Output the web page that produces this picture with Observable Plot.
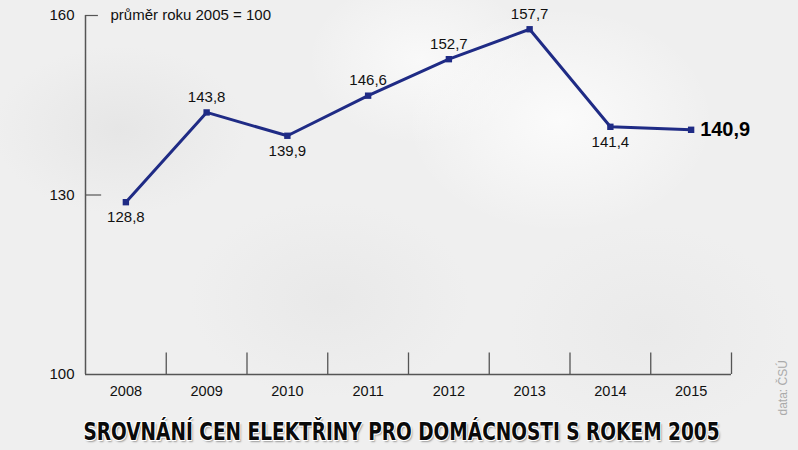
<!DOCTYPE html>
<html>
<head>
<meta charset="utf-8">
<script src="https://cdn.jsdelivr.net/npm/d3@7"></script>
<script src="https://cdn.jsdelivr.net/npm/@observablehq/plot@0.6"></script>
<style>
  html, body { margin: 0; padding: 0; }
  body {
    position: relative;
    width: 798px; height: 450px; overflow: hidden;
    background:
      radial-gradient(ellipse 180px 120px at 120px 130px, rgba(228,228,228,0.8), rgba(240,240,240,0) 70%),
      radial-gradient(ellipse 200px 140px at 330px 300px, rgba(230,230,230,0.7), rgba(240,240,240,0) 70%),
      radial-gradient(ellipse 220px 160px at 560px 120px, rgba(252,252,252,0.9), rgba(240,240,240,0) 70%),
      radial-gradient(ellipse 200px 150px at 650px 330px, rgba(232,232,232,0.7), rgba(240,240,240,0) 70%),
      radial-gradient(ellipse 160px 120px at 420px 60px, rgba(250,250,250,0.9), rgba(240,240,240,0) 70%),
      #efefef;
  }
  #chart { position: absolute; left: 0; top: 0; }
  #title {
    position: absolute; left: -100px; top: 419px; width: 998px;
    text-align: center; white-space: nowrap;
    font-family: "DejaVu Sans", sans-serif; font-weight: bold; font-size: 24px; line-height: 26px;
    color: #0a0a0a;
    transform: translateX(2.5px) scaleX(0.772); transform-origin: 499px 50%;
    text-shadow: -1px -1px 0 #fff, 1px -1px 0 #fff, -1px 1px 0 #fff, 1px 1px 0 #fff, 2px 2px 2px rgba(0,0,0,0.35);
  }
</style>
</head>
<body>
<div id="chart"></div>
<div id="title"></div>
<script>
const years = [2008, 2009, 2010, 2011, 2012, 2013, 2014, 2015];
const values = [128.8, 143.8, 139.9, 146.6, 152.7, 157.7, 141.4, 140.9];
const labelPlacement = ["below", "above", "below", "above", "above", "above", "below", "right"];
const yTicks = [100, 130, 160];
const title = "SROVNÁNÍ CEN ELEKTŘINY PRO DOMÁCNOSTI S ROKEM 2005";
const note = "průměr roku 2005 = 100";
const source = "data: ČSÚ";

const data = years.map((y, i) => ({year: y, value: values[i], place: labelPlacement[i]}));
const fmt = v => v.toFixed(1).replace(".", ",");
const boundaries = years.map(y => y + 0.5);
const x0 = years[0] - 0.5, x1 = years[years.length - 1] + 0.5;
const navy = "#1f2b85";
const axisColor = "#555";

const chart = Plot.plot({
  width: 798,
  height: 420,
  marginLeft: 85,
  marginRight: 67,
  marginTop: 15,
  marginBottom: 46,
  x: {type: "linear", domain: [x0, x1], axis: null},
  y: {type: "linear", domain: [100, 160], axis: null},
  style: {fontFamily: "Liberation Sans, Arial, sans-serif", background: "transparent"},
  marks: [
    // axes
    Plot.ruleY([100], {x1: x0, x2: x1, stroke: axisColor, strokeWidth: 1.5}),
    Plot.ruleX([x0], {y1: 100, y2: 160, stroke: axisColor, strokeWidth: 1.5}),
    Plot.ruleX(boundaries, {x: d => d, y1: 100, y2: 103.6, stroke: axisColor, strokeWidth: 1.3}),
    Plot.ruleY([130], {x1: x0, x2: x0 + 0.2, stroke: axisColor, strokeWidth: 1.2}),
    Plot.ruleY([160], {x1: x0, x2: x0 + 0.16, stroke: axisColor, strokeWidth: 1.2}),
    Plot.text(yTicks, {x: x0, y: d => d, text: d => String(d), textAnchor: "end", dx: -11, fontSize: 15, fill: "#111"}),
    Plot.text(years, {x: d => d, y: 100, text: d => String(d), dy: 17, fontSize: 14.5, fill: "#111"}),
    Plot.text([note], {x: x0, y: 160, text: d => d, textAnchor: "start", dx: 25, fontSize: 15, fill: "#111"}),
    // line and markers
    Plot.line(data, {x: "year", y: "value", stroke: navy, strokeWidth: 3, strokeLinejoin: "round"}),
    Plot.dot(data, {x: "year", y: "value", symbol: "square", r: 3.6, fill: navy, stroke: "none"}),
    // value labels
    Plot.text(data.filter(d => d.place === "above"), {x: "year", y: "value", text: d => fmt(d.value), dy: -15, fontSize: 15, fill: "#111"}),
    Plot.text(data.filter(d => d.place === "below"), {x: "year", y: "value", text: d => fmt(d.value), dy: 15, fontSize: 15, fill: "#111"}),
    Plot.text(data.filter(d => d.place === "right"), {x: "year", y: "value", text: d => fmt(d.value), textAnchor: "start", dx: 9, fontSize: 20, fontWeight: "bold", fill: "#000"}),
    // source
    Plot.text([source], {frameAnchor: "bottom-right", text: d => d, rotate: -90, dx: 55, dy: 41, fontSize: 12, fill: "#aaa", textAnchor: "start"})
  ]
});
document.getElementById("chart").appendChild(chart);
document.getElementById("title").textContent = title;
</script>
</body>
</html>
